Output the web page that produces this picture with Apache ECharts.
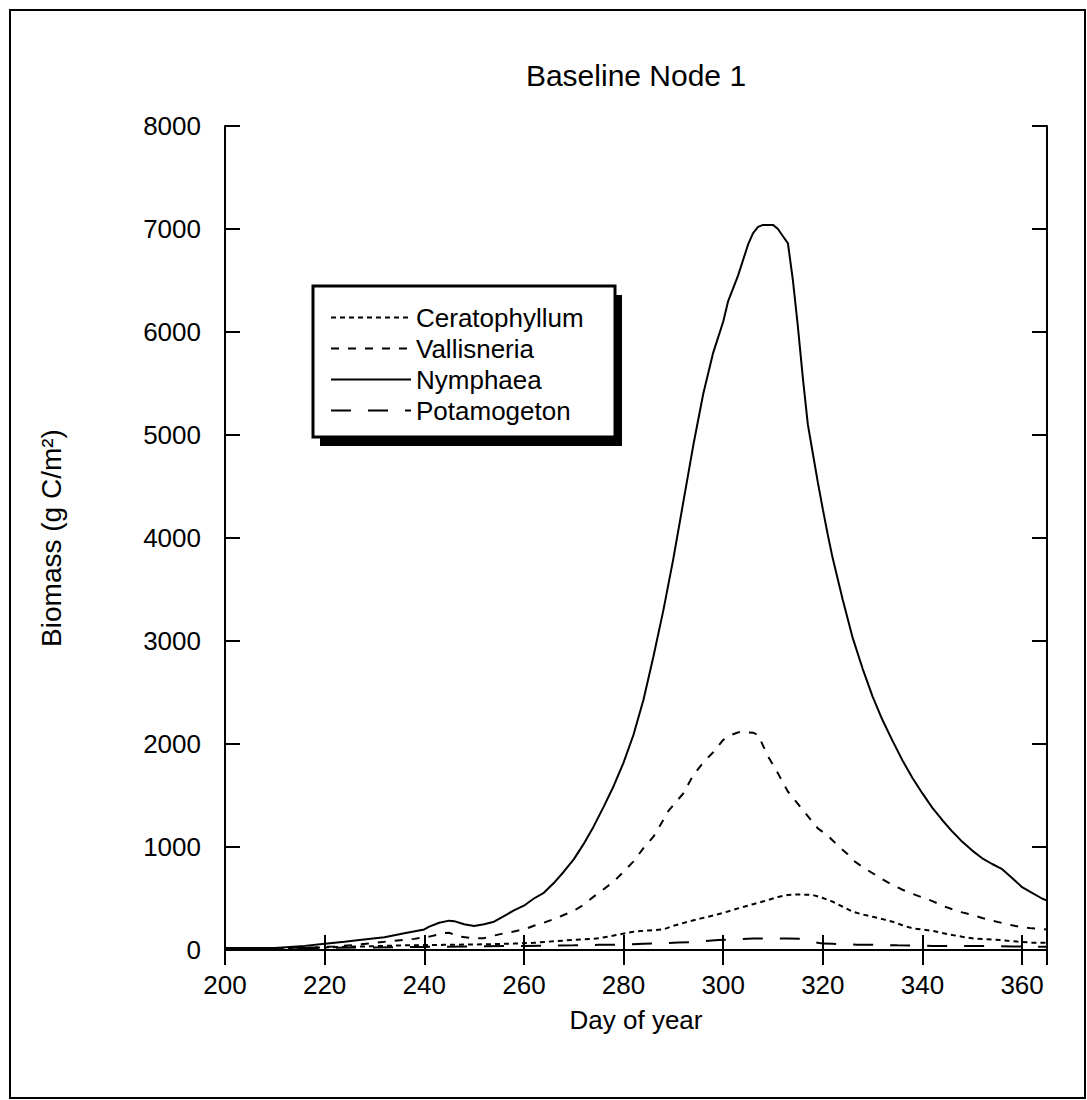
<!DOCTYPE html>
<html>
<head>
<meta charset="utf-8">
<script src="https://cdn.jsdelivr.net/npm/echarts@6/dist/echarts.min.js"></script>
<style>
html,body{margin:0;padding:0;background:#fff;}
#chart{width:1087px;height:1100px;}
</style>
</head>
<body>
<div id="chart"></div>
<script>
// ---- data ----
const seriesNames = ['Ceratophyllum', 'Vallisneria', 'Nymphaea', 'Potamogeton'];

const ceratoDays = [200,210,220,228,236,244,252,258,262,266,270,275,278,282,285,288,290,293,295,297,300,303,306,309,311,313,315,318,320,322,324,326,328,330,332,334,336,338,340,342,344,346,348,350,353,356,359,362,365];
const ceratoVals = [15,18,25,35,45,50,55,62,70,85,98,113,140,178,190,200,235,275,300,323,360,404,445,485,515,534,540,534,505,469,420,372,345,323,300,275,240,210,198,187,165,146,128,113,105,95,82,71,70];

const vallisDays = [200,210,218,222,226,230,234,238,241,244,245,247,250,252,254,256,258,260,262,264,266,268,270,272,274,276,278,280,282,284,286,287,289,292,294,296,298,300,302,303,305,306,307,309,311,313,316,319,321,323,325,326,328,330,332,334,336,338,340,342,344,346,348,350,352,354,356,358,360,362,365];
const vallisVals = [15,18,25,35,48,70,90,108,130,165,168,130,115,115,140,162,180,200,235,265,300,340,380,440,518,590,663,760,860,990,1100,1180,1350,1521,1699,1820,1920,2039,2095,2113,2113,2110,2087,1880,1715,1537,1359,1181,1110,1015,930,874,805,745,685,631,585,545,510,475,430,395,365,340,310,285,262,240,220,210,200];

const nymphDays = [200,210,216,220,224,227,232,236,240,241,243,245,246,248,250,252,254,256,258,260,262,264,266,268,270,272,274,276,278,280,282,284,286,288,290,292,294,296,298,300,301,303,305,306,307,308,310,311,312,313,314,315,316,317,318,319,320,321,322,324,326,328,330,332,334,336,338,340,342,344,346,348,350,352,354,356,358,360,362,364,365];
const nymphVals = [20,20,40,60,80,97,123,162,200,227,265,285,280,250,233,250,275,330,385,430,500,555,650,760,880,1030,1200,1390,1590,1820,2090,2430,2850,3300,3800,4350,4900,5400,5800,6100,6300,6550,6850,6960,7020,7040,7040,7000,6930,6860,6500,6050,5550,5100,4820,4540,4280,4030,3800,3400,3030,2730,2460,2230,2030,1840,1670,1520,1380,1260,1150,1050,965,890,835,785,700,610,555,500,480];

const potaDays = [200,220,240,260,270,275,279,284,288,291,295,299,303,306,310,313,316,318,320,322,327,331,335,339,342,346,350,354,358,362,365];
const potaVals = [15,20,30,40,45,50,52,60,65,72,80,97,105,112,113,112,110,80,62,60,52,50,45,42,40,40,38,38,35,33,32];

const xTicks = {min: 200, max: 365, interval: 20};
const yTicks = {min: 0, max: 8000, interval: 1000};

function pairs(d, v){ return d.map((x,i)=>[x, v[i]]); }

const FONT = "'Liberation Sans', Arial, sans-serif";
const chart = echarts.init(document.getElementById('chart'), null, {renderer:'svg'});

const axisLineStyle = {color:'#000', width:2};
const mkLine = (name, d, v, type) => ({
  name, type:'line', data: pairs(d, v), symbol:'none', smooth:false,
  lineStyle:{color:'#000', width:2, type}, itemStyle:{color:'#000'}, z:2
});

chart.setOption({
  animation:false,
  backgroundColor:'#fff',
  grid:{left:225, right:40, top:126, bottom:150, containLabel:false},
  xAxis:[{
    type:'value', position:'bottom', min:xTicks.min, max:xTicks.max, interval:xTicks.interval,
    name:'Day of year', nameLocation:'middle', nameGap:57,
    nameTextStyle:{color:'#000', fontSize:26, fontFamily:FONT},
    axisLine:{lineStyle:axisLineStyle},
    axisTick:{inside:true, length:15, lineStyle:axisLineStyle},
    axisLabel:{color:'#000', fontSize:26, fontFamily:FONT, margin:22, showMaxLabel:false,
      formatter: v => (v % 20 === 0 ? String(v) : '')},
    splitLine:{show:false}
  },{
    type:'value', position:'top', min:xTicks.min, max:xTicks.max, interval:xTicks.interval,
    axisLine:{lineStyle:axisLineStyle},
    axisTick:{inside:true, length:15, lineStyle:axisLineStyle},
    axisLabel:{show:false}, splitLine:{show:false}
  }],
  yAxis:[{
    type:'value', position:'left', min:yTicks.min, max:yTicks.max, interval:yTicks.interval,
    name:'Biomass (g C/m²)', nameLocation:'middle', nameGap:160, nameRotate:90,
    nameTextStyle:{color:'#000', fontSize:28, fontFamily:FONT},
    axisLine:{lineStyle:axisLineStyle},
    axisTick:{inside:true, length:15, lineStyle:axisLineStyle},
    axisLabel:{color:'#000', fontSize:26, fontFamily:FONT, margin:24, formatter: v => String(v)},
    splitLine:{show:false}
  },{
    type:'value', position:'right', min:yTicks.min, max:yTicks.max, interval:yTicks.interval,
    axisLine:{lineStyle:axisLineStyle},
    axisTick:{inside:true, length:15, lineStyle:axisLineStyle},
    axisLabel:{show:false}, splitLine:{show:false}
  }],
  title:{show:false},
  legend:{
    data:seriesNames, orient:'vertical', left:330, top:302, padding:0,
    itemWidth:80, itemHeight:14, itemGap:0, z:6,
    itemStyle:{color:'rgba(0,0,0,0)', borderColor:'rgba(0,0,0,0)', borderWidth:0},
    textStyle:{color:'#000', fontSize:26, fontFamily:FONT, lineHeight:31}
  },
  graphic:[
    {type:'rect', z:0, silent:true, shape:{x:10, y:10, width:1075, height:1088},
      style:{fill:'none', stroke:'#000', lineWidth:2}},
    {type:'rect', z:4, silent:true, shape:{x:320, y:295, width:302, height:151},
      style:{fill:'#000', stroke:'#000', lineWidth:0}},
    {type:'rect', z:5, silent:true, shape:{x:313, y:286, width:302, height:151},
      style:{fill:'#fff', stroke:'#000', lineWidth:3}},
    {type:'text', z:5, silent:true, x:636, y:75,
      style:{text:'Baseline Node 1', fill:'#000', font:'30px ' + FONT, textAlign:'center', textVerticalAlign:'middle'}}
  ],
  series:[
    mkLine('Ceratophyllum', ceratoDays, ceratoVals, [5,4]),
    mkLine('Vallisneria', vallisDays, vallisVals, [8,9]),
    mkLine('Nymphaea', nymphDays, nymphVals, 'solid'),
    mkLine('Potamogeton', potaDays, potaVals, [20,17])
  ]
});
</script>
</body>
</html>
